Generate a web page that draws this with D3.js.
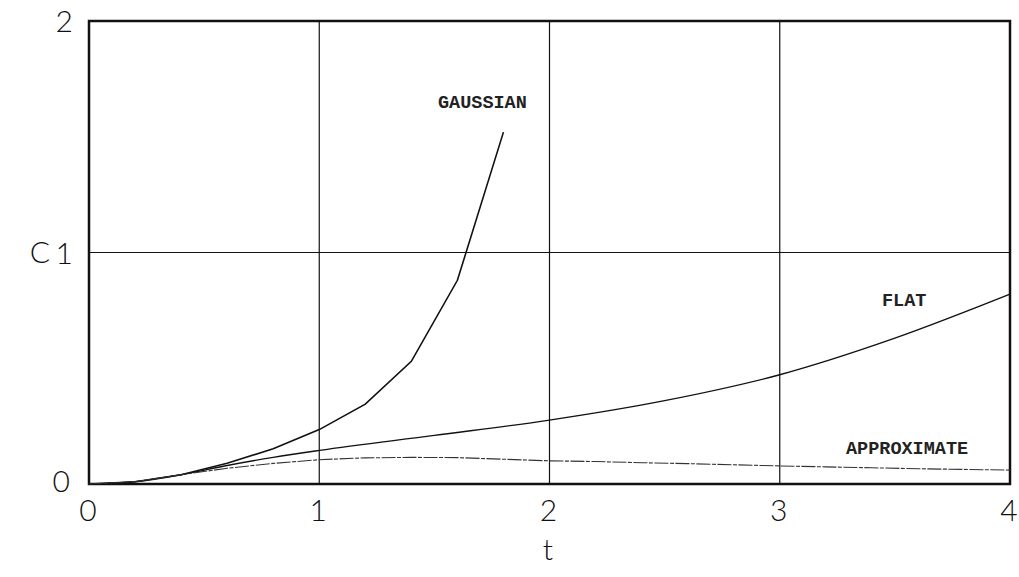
<!DOCTYPE html>
<html lang="en">
<head>
  <meta charset="UTF-8">
  <title>C vs t</title>
  <script src="https://d3js.org/d3.v7.min.js"></script>
  <style>
    body {
      margin: 0;
      padding: 0;
      background-color: #fff;
    }
    svg {
      display: block;
    }
    .tick-label {
      font-family: "Lato", "DejaVu Sans", sans-serif;
      font-weight: 300;
      font-size: 30px;
      fill: #111;
    }
    .curve-label {
      font-family: "Liberation Mono", "DejaVu Sans Mono", monospace;
      font-weight: bold;
      font-size: 18.5px;
      fill: #222;
    }
  </style>
</head>
<body>
  <svg id="chart"></svg>
  <script>
const width = 1019;
const height = 577;

// values
const xTicks = [0, 1, 2, 3, 4];
const yTicks = [0, 1, 2];

const gaussianT = [0, 0.2, 0.4, 0.6, 0.8, 1.0, 1.2, 1.4, 1.6, 1.8];
const gaussianC = [0, 0.01, 0.04, 0.09, 0.152, 0.235, 0.345, 0.53, 0.88, 1.52];

const flatT = [0, 0.2, 0.4, 0.6, 0.8, 1.0, 1.5, 2.0, 2.5, 3.0, 3.5, 4.0];
const flatC = [0, 0.01, 0.04, 0.08, 0.115, 0.145, 0.21, 0.276, 0.36, 0.472, 0.63, 0.82];

const approxT = [0, 0.2, 0.4, 0.6, 0.8, 1.0, 1.2, 1.4, 1.6, 1.8, 2.0, 2.2, 2.4, 2.6, 2.8, 3.0, 3.2, 3.4, 3.6, 3.8, 4.0];
const approxC = [0, 0.01, 0.04, 0.068, 0.089, 0.105, 0.113, 0.115, 0.114, 0.107, 0.10, 0.097, 0.092, 0.088, 0.083, 0.078, 0.074, 0.07, 0.066, 0.063, 0.06];

const svg = d3.select("#chart")
  .attr("width", width)
  .attr("height", height);

const x = d3.scaleLinear().domain([0, 4]).range([89, 1010]);
const y = d3.scaleLinear().domain([0, 2]).range([484, 21]);

// grid
svg.append("g")
  .selectAll("line.vgrid")
  .data(xTicks.slice(1, -1))
  .join("line")
  .attr("x1", d => x(d)).attr("x2", d => x(d))
  .attr("y1", y(2)).attr("y2", y(0))
  .attr("stroke", "#111").attr("stroke-width", 1.2);

svg.append("g")
  .selectAll("line.hgrid")
  .data(yTicks.slice(1, -1))
  .join("line")
  .attr("x1", x(0)).attr("x2", x(4))
  .attr("y1", d => y(d)).attr("y2", d => y(d))
  .attr("stroke", "#111").attr("stroke-width", 1.2);

// frame
svg.append("rect")
  .attr("x", x(0)).attr("y", y(2))
  .attr("width", x(4) - x(0)).attr("height", y(0) - y(2))
  .attr("fill", "none").attr("stroke", "#111").attr("stroke-width", 2.5);

// curves
const line = d3.line()
  .x(d => x(d[0]))
  .y(d => y(d[1]));

svg.append("path")
  .datum(d3.zip(gaussianT, gaussianC))
  .attr("d", line)
  .attr("fill", "none").attr("stroke", "#111").attr("stroke-width", 1.6);

svg.append("path")
  .datum(d3.zip(flatT, flatC))
  .attr("d", line.curve(d3.curveMonotoneX))
  .attr("fill", "none").attr("stroke", "#111").attr("stroke-width", 1.4);

svg.append("path")
  .datum(d3.zip(approxT, approxC))
  .attr("d", line.curve(d3.curveLinear))
  .attr("fill", "none").attr("stroke", "#333").attr("stroke-width", 1.1)
  .attr("stroke-dasharray", "14,1.5,4,1.5");

// curve labels
svg.append("text").attr("class", "curve-label")
  .attr("x", 438).attr("y", 108).text("GAUSSIAN");
svg.append("text").attr("class", "curve-label")
  .attr("x", 882).attr("y", 306).text("FLAT");
svg.append("text").attr("class", "curve-label")
  .attr("x", 846).attr("y", 454).text("APPROXIMATE");

// x tick labels
svg.append("g")
  .selectAll("text")
  .data(xTicks)
  .join("text")
  .attr("class", "tick-label")
  .attr("x", d => x(d) - 1)
  .attr("y", 521)
  .attr("text-anchor", "middle")
  .text(d => d);

// y tick labels
svg.append("g")
  .selectAll("text")
  .data(yTicks)
  .join("text")
  .attr("class", "tick-label")
  .attr("x", d => d === 0 ? 70 : 73)
  .attr("y", d => y(d) + (d === 0 ? 8 : 11))
  .attr("text-anchor", "end")
  .text(d => d);

// axis titles
svg.append("text").attr("class", "tick-label")
  .attr("x", 40).attr("y", 263).attr("text-anchor", "middle").text("C");
svg.append("text").attr("class", "tick-label")
  .attr("x", 548).attr("y", 560).attr("text-anchor", "middle").text("t");
  </script>
</body>
</html>
